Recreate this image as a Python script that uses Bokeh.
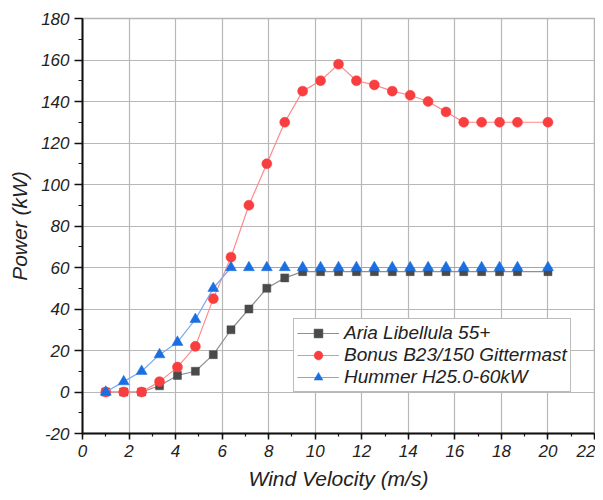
from bokeh.plotting import figure
from bokeh.models import FixedTicker, Legend, LegendItem, Range1d, CustomJSTickFormatter
from bokeh.embed import file_html
from bokeh.resources import INLINE

wind = [1.0, 1.77, 2.54, 3.31, 4.08, 4.85, 5.62, 6.38, 7.15, 7.92, 8.69, 9.46,
        10.23, 11.0, 11.77, 12.54, 13.31, 14.08, 14.85, 15.62, 16.38, 17.15,
        17.92, 18.69, 20.0]
aria = [0, 0, 0, 3, 8, 10, 18, 30, 40, 50, 55, 58,
        58, 58, 58, 58, 58, 58, 58, 58, 58, 58, 58, 58, 58]
bonus = [0, 0, 0, 5, 12, 22, 45, 65, 90, 110, 130, 145,
         150, 158, 150, 148, 145, 143, 140, 135, 130, 130, 130, 130, 130]
hummer = [0, 5, 10, 18, 24, 35, 50, 60, 60, 60, 60, 60,
          60, 60, 60, 60, 60, 60, 60, 60, 60, 60, 60, 60, 60]
labels = ["Aria Libellula 55+", "Bonus B23/150 Gittermast", "Hummer H25.0-60kW"]
x_ticks = list(range(0, 23, 2))
x_minor = list(range(0, 23, 1))
y_ticks = list(range(-20, 181, 20))
y_minor = list(range(-20, 181, 10))

FONT = "Liberation Sans"
TXT = "#222222"

p = figure(width=595, height=492, output_backend="svg", toolbar_location=None,
           x_range=Range1d(0, 22), y_range=Range1d(-20, 180),
           min_border_left=82, min_border_right=1, min_border_top=18,
           min_border_bottom=59)
p.background_fill_color = "white"
p.border_fill_color = "white"
p.outline_line_color = "#b5b5b5"
p.outline_line_width = 1.5

p.xaxis.ticker = FixedTicker(ticks=x_ticks, minor_ticks=x_minor)
p.yaxis.ticker = FixedTicker(ticks=y_ticks, minor_ticks=y_minor)
p.xaxis.axis_label = "Wind Velocity (m/s)"
p.yaxis.axis_label = "Power (kW)"
for ax in (p.xaxis, p.yaxis):
    ax.formatter = CustomJSTickFormatter(code="return tick.toString();")
    ax.axis_line_width = 2
    ax.axis_line_color = "#111111"
    ax.major_tick_line_color = "#111111"
    ax.minor_tick_line_color = "#111111"
    ax.major_tick_line_width = 1.5
    ax.minor_tick_line_width = 1.2
    ax.major_tick_in = 0
    ax.minor_tick_in = 0
    ax.major_label_text_font = FONT
    ax.major_label_text_font_style = "italic"
    ax.major_label_text_font_size = "17px"
    ax.major_label_text_color = TXT
    ax.axis_label_text_font = FONT
    ax.axis_label_text_font_style = "italic"
    ax.axis_label_text_font_size = "21px"
    ax.axis_label_text_color = TXT
p.xaxis.major_tick_out = 6
p.xaxis.minor_tick_out = 3
p.yaxis.major_tick_out = 8
p.yaxis.minor_tick_out = 4
p.xaxis.major_label_standoff = 5
p.xaxis.axis_label_standoff = 7
p.yaxis.major_label_standoff = 5
p.yaxis.axis_label_standoff = 7

p.xgrid.ticker = FixedTicker(ticks=x_ticks)
p.ygrid.ticker = FixedTicker(ticks=y_ticks)
for g in (p.xgrid, p.ygrid):
    g.grid_line_color = "#b8b8b8"
    g.grid_line_width = 1.2

series = [
    (aria, "#909090", "#4a4a4a", "square", 8),
    (bonus, "#ff8a8a", "#f83e3e", "circle", 10),
    (hummer, "#78aaf2", "#1a6ee0", "triangle", 11),
]
items = []
for (vals, lc, mc, mk, sz), lab in zip(series, labels):
    r1 = p.line(wind, vals, line_color=lc, line_width=1.2)
    r2 = p.scatter(wind, vals, marker=mk, size=sz, fill_color=mc,
                   line_color=mc, line_width=0.5)
    items.append(LegendItem(label=lab, renderers=[r1, r2]))

legend = Legend(items=items, location=(211, 41))
legend.label_text_font = FONT
legend.label_text_font_style = "italic"
legend.label_text_font_size = "19px"
legend.label_text_color = TXT
legend.border_line_color = "#7a7a7a"
legend.border_line_width = 1.2
legend.background_fill_color = "white"
legend.background_fill_alpha = 1.0
legend.glyph_width = 42
legend.glyph_height = 22
legend.label_height = 22
legend.spacing = 0
legend.padding = 3
legend.margin = 0
legend.label_standoff = 5
p.add_layout(legend, "center")

open("out.html", "w").write(file_html(p, INLINE))
